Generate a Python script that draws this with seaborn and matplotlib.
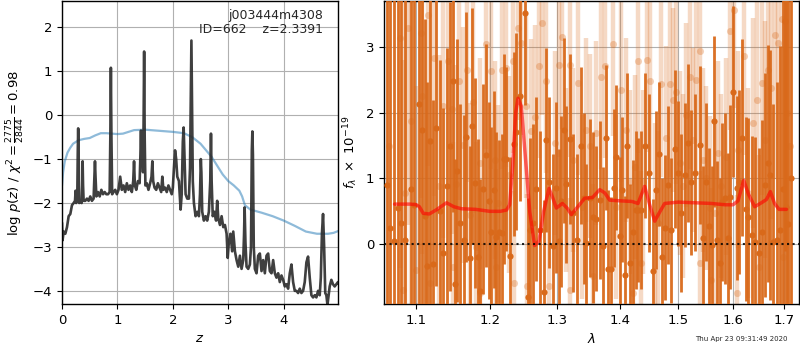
import matplotlib
matplotlib.use("Agg")
import matplotlib.pyplot as plt
from matplotlib.ticker import FixedLocator, FormatStrFormatter, NullLocator
import pandas as pd
import seaborn as sns

# ---- redshift fit: log p(z) from the grism fit ----
z_fit = [0.00, 0.01, 0.03, 0.06, 0.09, 0.12, 0.15, 0.18, 0.21, 0.235, 0.245, 0.255,
         0.275, 0.285, 0.292, 0.300, 0.31, 0.34, 0.355, 0.365, 0.372, 0.38, 0.39,
         0.42, 0.45, 0.48, 0.51, 0.54, 0.57, 0.585, 0.595, 0.605, 0.62, 0.65, 0.68,
         0.71, 0.74, 0.77, 0.80, 0.83, 0.86, 0.872, 0.882, 0.892, 0.905, 0.93, 0.96,
         0.99, 1.02, 1.05, 1.08, 1.11, 1.14, 1.17, 1.20, 1.23, 1.26, 1.285, 1.300,
         1.315, 1.34, 1.37, 1.40, 1.415, 1.425, 1.435, 1.450, 1.462, 1.472, 1.482,
         1.492, 1.505, 1.53, 1.56, 1.59, 1.615, 1.63, 1.645, 1.67, 1.70, 1.73, 1.76,
         1.79, 1.81, 1.83, 1.86, 1.89, 1.92, 1.95, 1.98, 2.00, 2.02, 2.04, 2.06, 2.08,
         2.11, 2.14, 2.16, 2.18, 2.195, 2.21, 2.23, 2.26, 2.29, 2.31, 2.325, 2.335,
         2.345, 2.36, 2.38, 2.41, 2.44, 2.47, 2.49, 2.505, 2.515, 2.53, 2.56, 2.59,
         2.62, 2.65, 2.675, 2.688, 2.70, 2.72, 2.75, 2.78, 2.80, 2.82, 2.85, 2.88,
         2.91, 2.94, 2.97, 2.99, 3.01, 3.04, 3.07, 3.09, 3.12, 3.15, 3.18, 3.21, 3.24,
         3.27, 3.285, 3.295, 3.31, 3.33, 3.36, 3.39, 3.41, 3.425, 3.435, 3.445, 3.46,
         3.48, 3.51, 3.54, 3.57, 3.60, 3.63, 3.66, 3.69, 3.72, 3.75, 3.78, 3.81, 3.84,
         3.87, 3.90, 3.93, 3.96, 3.99, 4.02, 4.05, 4.08, 4.11, 4.14, 4.17, 4.20, 4.23,
         4.26, 4.29, 4.32, 4.35, 4.38, 4.41, 4.44, 4.47, 4.50, 4.53, 4.56, 4.59, 4.62,
         4.65, 4.67, 4.69, 4.71, 4.73, 4.75, 4.77, 4.79, 4.81, 4.83, 4.86, 4.89, 4.92,
         4.95, 4.98, 5.00]
logp_fit = [-2.45, -2.85, -2.65, -2.70, -2.55, -2.30, -2.25, -2.05, -2.00, -1.95, -1.72, -2.00,
            -1.95, -0.80, -0.30, -0.90, -2.00, -1.95, -2.00, -1.60, -1.05, -1.60, -1.95,
            -1.95, -1.90, -1.95, -1.85, -1.95, -1.90, -1.40, -1.05, -1.40, -1.85, -1.75, -1.85,
            -1.70, -1.80, -1.75, -1.80, -1.80, -1.75, -0.50, 1.08, -0.50, -1.80, -1.75, -1.70,
            -1.80, -1.70, -1.40, -1.70, -1.60, -1.75, -1.55, -1.70, -1.60, -1.75, -1.50, -1.05,
            -1.60, -1.70, -1.50, -1.55, -0.90, -0.35, -1.00, -0.40, -1.30, -0.20, 1.45,
            -0.50, -1.60, -1.55, -1.70, -1.55, -1.40, -1.05, -1.50, -1.65, -1.70, -1.55, -1.65,
            -1.75, -1.40, -1.70, -1.65, -1.75, -1.60, -1.70, -1.80, -1.65, -1.20, -0.80, -1.00, -1.40,
            -1.50, -2.15, -1.80, -0.60, -0.28, -0.90, -1.80, -1.90, -1.90, -1.20, 0.50, 1.70,
            0.50, -1.50, -2.00, -2.30, -2.20, -2.30, -1.80, -1.00, -1.30, -2.20, -2.40, -2.30,
            -2.40, -2.20, -1.50, -0.42, -1.50, -2.30, -2.20, -2.40, -1.95, -2.35, -2.50, -2.30,
            -2.55, -2.50, -2.70, -3.25, -2.90, -2.70, -3.10, -2.65, -3.10, -3.30, -3.45, -3.20, -3.50,
            -3.30, -2.70, -2.10, -2.90, -3.45, -3.50, -3.40, -3.00, -0.80, -0.37, -0.90, -3.00,
            -3.50, -3.60, -3.20, -3.15, -3.55, -3.30, -3.60, -3.20, -3.15, -3.55, -3.60, -3.30, -3.60,
            -3.70, -3.60, -3.80, -3.65, -3.75, -3.90, -3.85, -3.95, -3.60, -3.40, -3.80, -4.00, -4.00,
            -4.05, -3.95, -4.05, -4.00, -3.80, -3.35, -3.22, -3.70, -4.10, -4.15, -4.10, -4.15, -4.00,
            -4.10, -3.70, -2.70, -2.25, -3.00, -4.05, -4.10, -4.32, -4.10, -3.90, -3.75, -3.85, -3.90,
            -3.85, -3.80, -3.85]

# ---- photometric-only log p(z) ----
z_phot = [0.00, 0.02, 0.05, 0.10, 0.15, 0.20, 0.30, 0.40, 0.50, 0.60, 0.70, 0.80, 1.00,
          1.10, 1.20, 1.30, 1.50, 1.70, 1.90, 2.00, 2.20, 2.35, 2.50, 2.60, 2.70, 2.80,
          2.90, 3.00, 3.10, 3.20, 3.25, 3.30, 3.40, 3.60, 3.80, 4.00, 4.20, 4.40, 4.60,
          4.80, 4.90, 5.00]
logp_phot = [-1.60, -1.30, -1.05, -0.85, -0.74, -0.65, -0.57, -0.54, -0.52, -0.46, -0.41,
             -0.41, -0.43, -0.42, -0.38, -0.34, -0.33, -0.35, -0.37, -0.38, -0.41, -0.50,
             -0.65, -0.80, -0.95, -1.15, -1.35, -1.50, -1.60, -1.72, -1.85, -2.05, -2.15,
             -2.22, -2.30, -2.40, -2.52, -2.65, -2.70, -2.70, -2.68, -2.63]

# ---- 1D spectrum: binned points ----
wave_bin = [1.0620, 1.0665, 1.0712, 1.0760, 1.0806, 1.0858, 1.0926, 1.0975, 1.1035, 1.1074,
            1.1109, 1.1140, 1.1175, 1.1219, 1.1264, 1.1308, 1.1353, 1.1411, 1.1443, 1.1488,
            1.1520, 1.1543, 1.1579, 1.1634, 1.1671, 1.1726, 1.1754, 1.1787, 1.1833, 1.1856,
            1.1903, 1.1941, 1.1983, 1.2021, 1.2055, 1.2093, 1.2131, 1.2169, 1.2198, 1.2237,
            1.2295, 1.2344, 1.2383, 1.2432, 1.2506, 1.2555, 1.2590, 1.2630, 1.2680, 1.2730,
            1.2791, 1.2831, 1.2872, 1.2933, 1.2984, 1.3025, 1.3061, 1.3097, 1.3139, 1.3191,
            1.3243, 1.3306, 1.3374, 1.3417, 1.3454, 1.3507, 1.3560, 1.3603, 1.3668, 1.3722,
            1.3765, 1.3803, 1.3858, 1.3896, 1.3940, 1.3996, 1.4040, 1.4084, 1.4118, 1.4162,
            1.4218, 1.4263, 1.4303, 1.4359, 1.4416, 1.4490, 1.4559, 1.4605, 1.4663, 1.4721,
            1.4762, 1.4820, 1.4879, 1.4938, 1.4997, 1.5044, 1.5116, 1.5175, 1.5235, 1.5296,
            1.5387, 1.5447, 1.5509, 1.5551, 1.5619, 1.5650, 1.5712, 1.5755, 1.5805, 1.5849,
            1.5912, 1.5956, 1.6006, 1.6070, 1.6120, 1.6184, 1.6248, 1.6293, 1.6358, 1.6422,
            1.6507, 1.6553, 1.6618, 1.6671, 1.6717, 1.6783, 1.6863, 1.6916, 1.6983, 1.7010,
            1.7037, 1.7090, 1.7140]
flux_bin = [0.90, 0.25, 0.05, 0.55, 0.33, 0.07, 0.84, 0.60, 2.14, 1.73,
            0.43, -0.33, 1.57, -0.30, 1.77, 0.51, -0.13, 0.88, 1.49, 2.49,
            -0.61, 1.12, 0.33, 0.07, 1.63, -0.21, 1.80, 0.93, -0.20, -0.71,
            0.84, 1.35, 0.66, 0.19, 0.83, 0.11, 0.18, 0.17, 1.30, 1.29,
            -0.18, 1.52, 1.71, 2.25, 3.52, -0.80, 0.21, 0.33, 0.84, 0.22,
            -0.73, 1.58, 0.94, -0.03, 0.86, 0.05, 0.65, 1.73, 0.91, 1.60,
            0.47, 0.07, 1.50, 0.70, 0.02, 0.70, 0.41, 0.39, 0.67, -0.03,
            1.62, -0.38, -0.38, 0.85, 1.32, 0.12, 0.83, -0.47, 1.50, -0.28,
            0.18, 0.52, 0.52, 0.52, 1.50, 1.08, -0.41, 0.83, 1.37, -0.19,
            0.25, 0.90, 0.21, 1.45, 1.08, 0.47, 1.05, 1.54, 0.94, 1.09,
            1.51, 0.09, 0.95, 0.27, -0.01, 1.87, 0.07, -0.29, 0.64, 0.70,
            0.09, 0.72, 2.32, 0.85, 0.94, 1.62, 0.53, 0.42, 0.14, 0.03,
            -0.13, 0.19, 0.90, 1.23, 1.05, 0.03, 0.07, 0.22, 0.84, 3.40,
            0.56, 0.30, 1.00]
err_bin = [5.5, 6.0, 5.0, 5.5, 4.8, 5.2, 4.5, 4.8, 3.6, 3.2,
           3.0, 2.8, 2.6, 2.5, 2.4, 2.3, 2.2, 2.1, 2.2, 2.0,
           1.9, 2.0, 1.8, 1.9, 1.9, 1.7, 1.8, 1.6, 1.8, 1.7,
           1.6, 1.7, 1.5, 1.6, 1.5, 1.6, 1.4, 1.5, 1.6, 1.4,
           1.5, 1.4, 1.5, 1.6, 1.4, 1.5, 1.4, 1.5, 1.4, 1.5,
           1.4, 1.4, 1.3, 1.4, 1.3, 1.4, 1.3, 1.4, 1.2, 1.3,
           1.2, 1.3, 1.2, 1.3, 1.2, 1.2, 1.3, 1.1, 1.2, 1.2,
           1.1, 1.2, 1.1, 1.2, 1.1, 1.2, 1.1, 1.2, 1.1, 1.2,
           1.1, 1.2, 1.1, 1.2, 1.1, 1.2, 1.1, 1.2, 1.1, 1.2,
           1.1, 1.2, 1.1, 1.2, 1.1, 1.2, 1.1, 1.2, 1.1, 1.2,
           1.2, 1.1, 1.2, 1.2, 1.2, 1.3, 1.2, 1.3, 1.2, 1.3,
           1.3, 1.4, 1.3, 1.4, 1.4, 1.5, 1.4, 1.5, 1.5, 1.6,
           1.6, 1.7, 1.7, 1.8, 1.9, 2.1, 2.4, 2.8, 3.2, 3.5,
           4.0, 4.5, 5.0]

# ---- 1D spectrum: unbinned points ----
wave_raw = [1.0650, 1.0785, 1.0827, 1.0849, 1.0892, 1.0935, 1.0990, 1.1066, 1.1079, 1.1153,
            1.1175, 1.1233, 1.1299, 1.1353, 1.1420, 1.1479, 1.1488, 1.1534, 1.1570, 1.1625,
            1.1680, 1.1726, 1.1763, 1.1810, 1.1856, 1.1866, 1.1950, 1.2021, 1.2069, 1.2093,
            1.2121, 1.2169, 1.2237, 1.2276, 1.2334, 1.2344, 1.2407, 1.2456, 1.2531, 1.2545,
            1.2605, 1.2654, 1.2719, 1.2771, 1.2826, 1.2871, 1.2959, 1.3025, 1.3076, 1.3139,
            1.3191, 1.3200, 1.3243, 1.3321, 1.3390, 1.3454, 1.3518, 1.3560, 1.3614, 1.3695,
            1.3749, 1.3885, 1.3940, 1.4023, 1.4107, 1.4173, 1.4218, 1.4246, 1.4303, 1.4359,
            1.4388, 1.4456, 1.4500, 1.4587, 1.4643, 1.4700, 1.4791, 1.4850, 1.4908, 1.4967,
            1.5026, 1.5086, 1.5145, 1.5206, 1.5266, 1.5314, 1.5387, 1.5390, 1.5447, 1.5509,
            1.5582, 1.5600, 1.5657, 1.5718, 1.5780, 1.5880, 1.5956, 1.6031, 1.6070, 1.6099,
            1.6208, 1.6293, 1.6390, 1.6468, 1.6507, 1.6553, 1.6618, 1.6684, 1.6737, 1.6816,
            1.6883, 1.6950, 1.6980, 1.7050, 1.7120]
flux_raw = [1.50, 3.14, -0.70, 0.78, 3.29, 1.87, -0.40, 3.21, 2.25, 3.49,
            -0.59, 2.83, 0.88, 2.10, 2.78, 2.05, -0.34, 0.92, 2.48, 1.51,
            2.65, 0.45, 2.17, -0.04, -0.75, 1.23, 3.05, 2.64, 1.28, -0.35,
            0.62, 2.65, 2.68, 1.06, 2.78, -0.59, 3.29, 3.06, 2.10, -0.64,
            1.72, 1.94, 2.71, 3.37, 2.48, -0.64, 1.54, 2.73, 3.16, 0.98,
            2.73, -0.70, 1.28, 2.45, 0.57, 1.74, 1.49, -0.49, 1.69, 2.55,
            2.71, 3.04, 0.57, 2.35, 1.74, 0.95, -0.75, 1.18, 2.78, -0.29,
            0.95, 2.81, 2.48, 0.45, 0.32, 2.43, 1.61, 2.43, 2.20, 2.32,
            1.23, 0.88, 1.97, 2.55, 1.59, 2.50, 2.94, -0.29, 1.28, 1.01,
            0.55, -0.54, 0.47, 1.39, 0.88, 1.33, 3.24, 3.57, -0.75, 1.44,
            2.86, 0.78, 1.84, 2.20, -0.34, 2.45, 1.59, 2.65, 2.38, 3.19,
            3.06, 3.42, -0.19, 2.00, 1.50]
err_raw = [4.0, 3.5, 3.5, 3.2, 3.0, 3.0, 2.8, 2.5, 2.4, 2.3,
           2.2, 2.1, 2.0, 2.0, 1.9, 1.9, 1.9, 1.8, 1.8, 1.8,
           1.7, 1.7, 1.7, 1.6, 1.6, 1.6, 1.6, 1.5, 1.5, 1.5,
           1.5, 1.5, 1.5, 1.5, 1.4, 1.4, 1.4, 1.4, 1.4, 1.4,
           1.4, 1.4, 1.4, 1.4, 1.4, 1.4, 1.4, 1.4, 1.4, 1.4,
           1.4, 1.4, 1.4, 1.4, 1.4, 1.4, 1.4, 1.4, 1.4, 1.4,
           1.4, 1.4, 1.4, 1.4, 1.4, 1.4, 1.4, 1.4, 1.4, 1.4,
           1.4, 1.4, 1.4, 1.4, 1.4, 1.4, 1.4, 1.4, 1.4, 1.4,
           1.4, 1.4, 1.4, 1.4, 1.4, 1.4, 1.4, 1.4, 1.4, 1.4,
           1.4, 1.4, 1.4, 1.4, 1.4, 1.5, 1.5, 1.5, 1.5, 1.5,
           1.5, 1.6, 1.6, 1.6, 1.7, 1.7, 1.8, 1.9, 2.0, 2.2,
           2.5, 2.9, 3.2, 4.0, 4.5]

# ---- best-fit model ----
wave_model = [1.072, 1.092, 1.100, 1.104, 1.109, 1.117, 1.126, 1.140, 1.150, 1.160, 1.180,
              1.200, 1.215, 1.224, 1.2285, 1.233, 1.2373, 1.2407, 1.2456, 1.251, 1.258,
              1.2654, 1.2719, 1.279, 1.2871, 1.293, 1.2983, 1.3076, 1.315, 1.3216, 1.330,
              1.3427, 1.355, 1.3667, 1.375, 1.383, 1.400, 1.420, 1.4301, 1.4415, 1.450,
              1.4587, 1.468, 1.476, 1.500, 1.530, 1.560, 1.585, 1.6004, 1.6099, 1.6208,
              1.630, 1.6420, 1.655, 1.665, 1.6728, 1.681, 1.690, 1.7048]
flux_model = [0.61, 0.61, 0.60, 0.57, 0.47, 0.46, 0.52, 0.63, 0.57, 0.54, 0.53,
              0.50, 0.50, 0.52, 0.60, 1.20, 2.00, 2.22, 2.10, 1.40, 0.50,
              -0.02, 0.05, 0.50, 0.85, 0.70, 0.55, 0.62, 0.55, 0.45, 0.55,
              0.70, 0.71, 0.83, 0.78, 0.67, 0.66, 0.65, 0.62, 0.88, 0.60,
              0.35, 0.50, 0.62, 0.64, 0.63, 0.62, 0.60, 0.60, 0.66, 0.97,
              0.76, 0.57, 0.63, 0.68, 0.80, 0.62, 0.53, 0.53]

wave_ticks = [1.1, 1.2, 1.3, 1.4, 1.5, 1.6, 1.7]

sns.set_style("ticks")
plt.rcParams.update({
    "font.family": ["DejaVu Sans"],
    "font.size": 9.5,
    "axes.edgecolor": "black",
    "axes.linewidth": 1.0,
    "xtick.color": "black",
    "ytick.color": "black",
    "xtick.major.size": 3.5,
    "ytick.major.size": 3.5,
    "axes.labelcolor": "black",
})

ORANGE = "#d9691a"

fig = plt.figure(figsize=(8, 3.5), dpi=100)
ax_z = fig.add_axes([0.0775, 0.1314, 0.345, 0.8657])
ax_s = fig.add_axes([0.48, 0.1314, 0.51875, 0.8657])

# --- left: redshift probability ---
pz = pd.DataFrame({"z": z_fit, "logp": logp_fit})
pz_phot = pd.DataFrame({"z": z_phot, "logp": logp_phot})
sns.lineplot(data=pz_phot, x="z", y="logp", ax=ax_z, color="#1f77b4", alpha=0.5,
             lw=1.6, estimator=None, sort=False)
sns.lineplot(data=pz, x="z", y="logp", ax=ax_z, color="#2a2a2a", alpha=0.9,
             lw=1.9, estimator=None, sort=False)
ax_z.set_xlim(0, 4.98)
ax_z.set_ylim(-4.3, 2.6)
ax_z.grid(True, color="#b0b0b0", lw=0.8)
ax_z.set_axisbelow(True)
ax_z.set_xlabel("$z$")
ax_z.set_ylabel(r"log $p(z)$ / $\chi^2=\frac{2775}{2844}=0.98$")
ax_z.text(0.945, 0.975, "j003444m4308\nID=662    z=2.3391", transform=ax_z.transAxes,
          ha="right", va="top", fontsize=9, linespacing=1.15)

# --- right: spectrum ---
raw = pd.DataFrame({"wave": wave_raw, "flux": flux_raw, "err": err_raw})
binned = pd.DataFrame({"wave": wave_bin, "flux": flux_bin, "err": err_bin})
model = pd.DataFrame({"wave": wave_model, "flux": flux_model})

ax_s.errorbar(raw["wave"], raw["flux"], yerr=raw["err"], fmt="none", ecolor=ORANGE,
              elinewidth=3.2, alpha=0.25, zorder=1)
sns.scatterplot(data=raw, x="wave", y="flux", ax=ax_s, color=ORANGE, s=26,
                alpha=0.3, linewidth=0, zorder=2)
ax_s.errorbar(binned["wave"], binned["flux"], yerr=binned["err"], fmt="none",
              ecolor=ORANGE, elinewidth=2.0, alpha=0.95, zorder=3)
sns.scatterplot(data=binned, x="wave", y="flux", ax=ax_s, color=ORANGE, s=20,
                linewidth=0, zorder=4)
sns.lineplot(data=model, x="wave", y="flux", ax=ax_s, color="red", alpha=0.6, lw=2.5,
             estimator=None, sort=False, zorder=5)
ax_s.axhline(0, color="black", ls=":", lw=1.5, alpha=0.85, zorder=6)

ax_s.set_xscale("log")
ax_s.xaxis.set_major_locator(FixedLocator(wave_ticks))
ax_s.xaxis.set_major_formatter(FormatStrFormatter("%.1f"))
ax_s.xaxis.set_minor_locator(NullLocator())
ax_s.set_xlim(1.0587, 1.7304)
ax_s.set_ylim(-0.91, 3.7)
ax_s.grid(True, color="#b0b0b0", lw=0.8)
ax_s.set_axisbelow(True)
ax_s.set_xlabel(r"$\lambda$")
ax_s.set_ylabel(r"$f_\lambda\ \times\ 10^{-19}$")

fig.text(0.984, 0.031, "Thu Apr 23 09:31:49 2020", ha="right", va="center", fontsize=5)

fig.savefig("out.png", dpi=100)
